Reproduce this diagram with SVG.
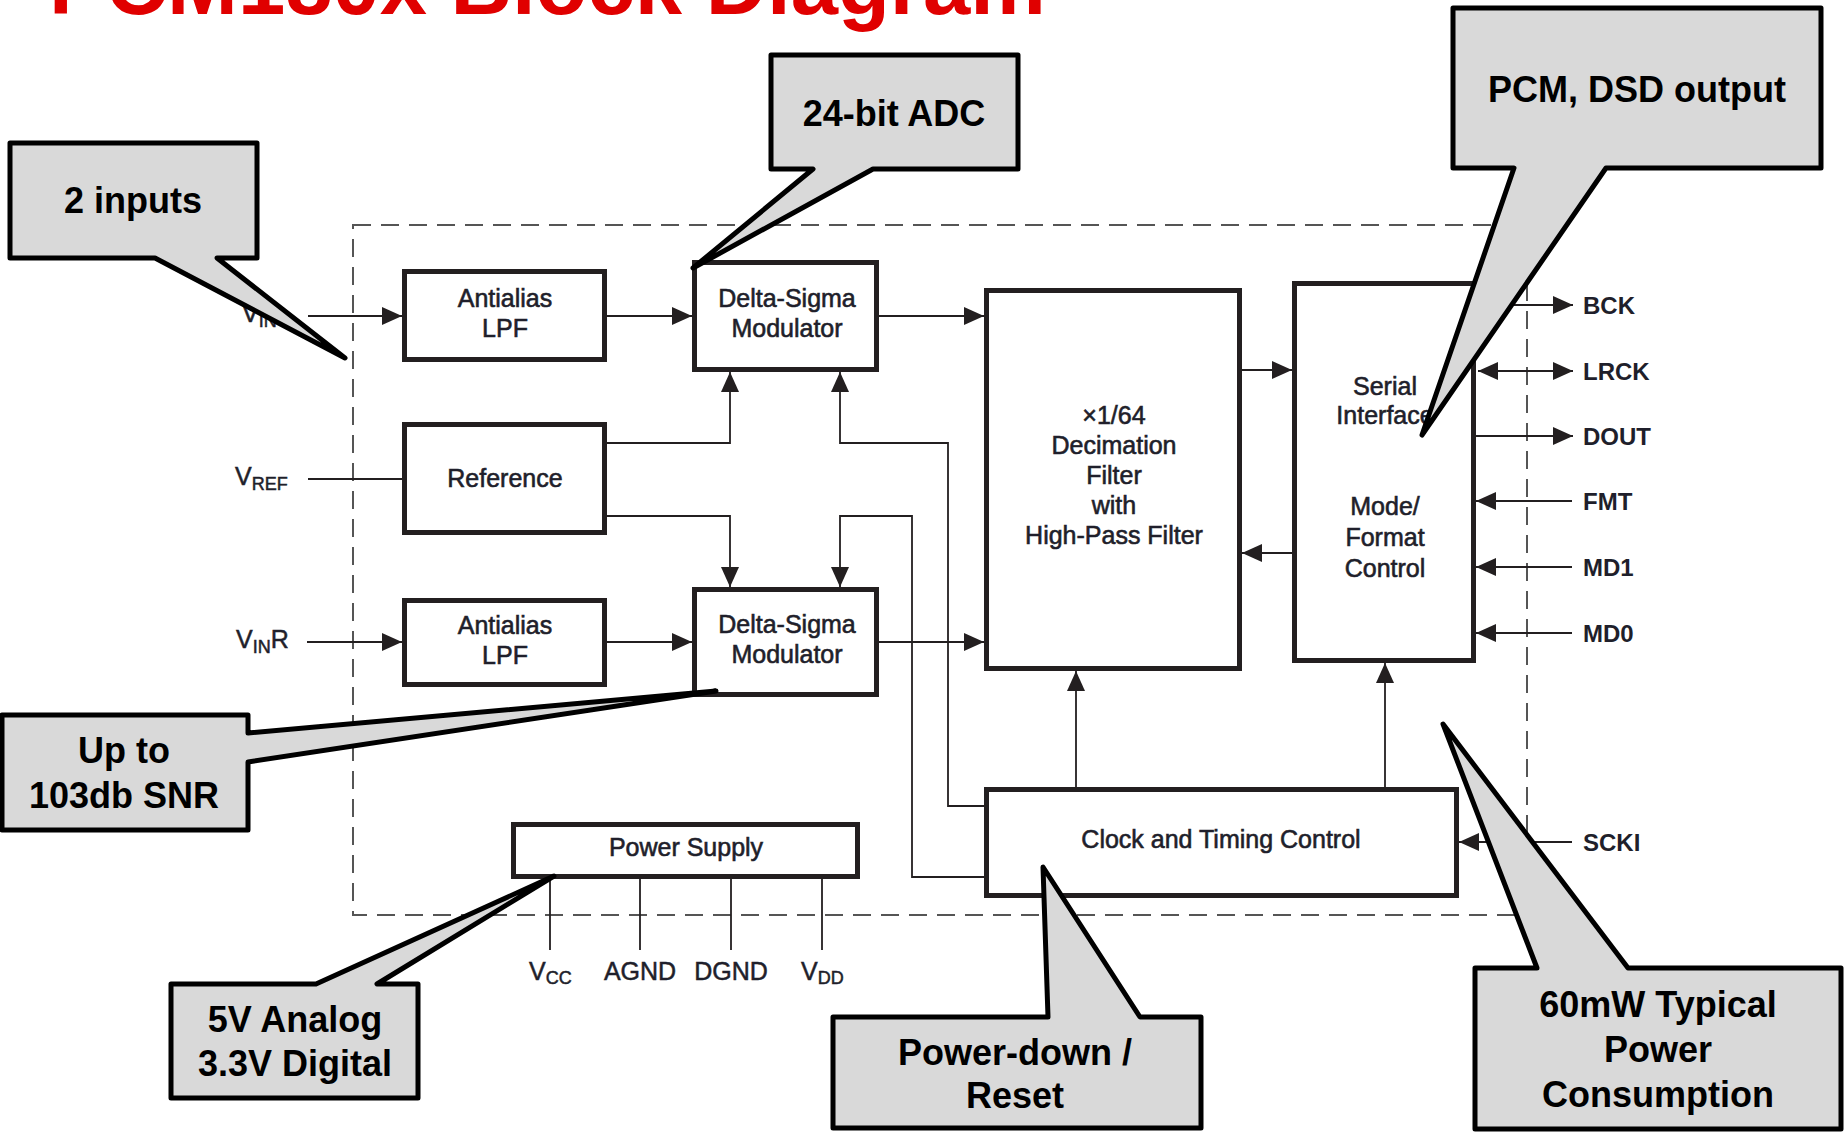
<svg xmlns="http://www.w3.org/2000/svg" width="1845" height="1134" viewBox="0 0 1845 1134">
<defs>
<style>
.blk{fill:#fff;stroke:#231f20;stroke-width:5}
.bt{font-family:"Liberation Sans",Arial,sans-serif;font-size:25px;fill:#1f1f2b;stroke:#1f1f2b;stroke-width:0.6;text-anchor:middle}
.lbl{font-family:"Liberation Sans",Arial,sans-serif;font-size:25px;fill:#1f1f2b;stroke:#1f1f2b;stroke-width:0.5}
.pin{font-family:"Liberation Sans",Arial,sans-serif;font-size:24px;font-weight:bold;fill:#1f1f2b}
.w{fill:none;stroke:#231f20;stroke-width:1.8}
.co{fill:#d9d9d9;stroke:#000;stroke-width:5;stroke-linejoin:round}
.ct{font-family:"Liberation Sans",Arial,sans-serif;font-size:36px;font-weight:bold;fill:#000;text-anchor:middle}
</style>
<marker id="ah" markerWidth="20" markerHeight="18" refX="20" refY="9" orient="auto-start-reverse" markerUnits="userSpaceOnUse">
<path d="M0,0 L20,9 L0,18 Z" fill="#231f20"/>
</marker>
</defs>
<rect width="1845" height="1134" fill="#fff"/>
<text x="49" y="14" font-family="Liberation Sans,Arial,sans-serif" font-size="85" font-weight="bold" fill="#e00000">PCM180x Block Diagram</text>

<rect id="boundary" x="353" y="225" width="1174" height="690" fill="none" stroke="#555" stroke-width="2" stroke-dasharray="18 10"/>

<g id="connectors">
<path class="w" d="M308,316 H402" marker-end="url(#ah)"/>
<path class="w" d="M607,316 H692" marker-end="url(#ah)"/>
<path class="w" d="M879,316 H984" marker-end="url(#ah)"/>
<path class="w" d="M607,443 H730 V372" marker-end="url(#ah)"/>
<path class="w" d="M984,806 H948 V443 H840 V372" marker-end="url(#ah)"/>
<path class="w" d="M607,516 H730 V587" marker-end="url(#ah)"/>
<path class="w" d="M984,877 H912 V516 H840 V587" marker-end="url(#ah)"/>
<path class="w" d="M308,479 H402"/>
<path class="w" d="M307,642 H402" marker-end="url(#ah)"/>
<path class="w" d="M607,642 H692" marker-end="url(#ah)"/>
<path class="w" d="M879,642 H984" marker-end="url(#ah)"/>
<path class="w" d="M1242,370 H1292" marker-end="url(#ah)"/>
<path class="w" d="M1292,553 H1242" marker-end="url(#ah)"/>
<path class="w" d="M1076,787 V671" marker-end="url(#ah)"/>
<path class="w" d="M1385,787 V663" marker-end="url(#ah)"/>
<path class="w" d="M1476,305 H1573" marker-end="url(#ah)"/>
<path class="w" d="M1478,371 H1573" marker-start="url(#ah)" marker-end="url(#ah)"/>
<path class="w" d="M1476,436 H1573" marker-end="url(#ah)"/>
<path class="w" d="M1572,501 H1476" marker-end="url(#ah)"/>
<path class="w" d="M1572,567 H1476" marker-end="url(#ah)"/>
<path class="w" d="M1572,633 H1476" marker-end="url(#ah)"/>
<path class="w" d="M1572,842 H1459" marker-end="url(#ah)"/>
<path class="w" d="M550,879 V950 M640,879 V950 M731,879 V950 M822,879 V950"/>
</g>

<g id="lpf-top"><rect class="blk" x="404.5" y="271.5" width="200" height="88"/>
<text class="bt" x="505" y="307">Antialias</text><text class="bt" x="505" y="337">LPF</text></g>
<g id="dsm-top"><rect class="blk" x="694.5" y="262.5" width="182" height="107"/>
<text class="bt" x="787" y="307">Delta-Sigma</text><text class="bt" x="787" y="337">Modulator</text></g>
<g id="reference"><rect class="blk" x="404.5" y="424.5" width="200" height="108"/>
<text class="bt" x="505" y="487">Reference</text></g>
<g id="lpf-bottom"><rect class="blk" x="404.5" y="600.5" width="200" height="84"/>
<text class="bt" x="505" y="634">Antialias</text><text class="bt" x="505" y="664">LPF</text></g>
<g id="dsm-bottom"><rect class="blk" x="694.5" y="589.5" width="182" height="105"/>
<text class="bt" x="787" y="633">Delta-Sigma</text><text class="bt" x="787" y="663">Modulator</text></g>
<g id="decimation"><rect class="blk" x="986.5" y="290.5" width="253" height="378"/>
<text class="bt" x="1114" y="424">×1/64</text><text class="bt" x="1114" y="454">Decimation</text><text class="bt" x="1114" y="484">Filter</text><text class="bt" x="1114" y="514">with</text><text class="bt" x="1114" y="544">High-Pass Filter</text></g>
<g id="serial"><rect class="blk" x="1294.5" y="283.5" width="179" height="377"/>
<text class="bt" x="1385" y="395">Serial</text><text class="bt" x="1385" y="424">Interface</text><text class="bt" x="1385" y="515">Mode/</text><text class="bt" x="1385" y="546">Format</text><text class="bt" x="1385" y="577">Control</text></g>
<g id="clock"><rect class="blk" x="986.5" y="789.5" width="470" height="106"/>
<text class="bt" x="1221" y="848">Clock and Timing Control</text></g>
<g id="power"><rect class="blk" x="513.5" y="824.5" width="344" height="52"/>
<text class="bt" x="686" y="856">Power Supply</text></g>

<g id="pins">
<text class="lbl" x="242" y="322">V<tspan font-size="18" dy="5">IN</tspan></text>
<text class="lbl" x="235" y="485">V<tspan font-size="18" dy="5">REF</tspan></text>
<text class="lbl" x="236" y="648">V<tspan font-size="18" dy="5">IN</tspan><tspan dy="-5">R</tspan></text>
<text class="lbl" x="529" y="980" font-size="24">V<tspan font-size="18" dy="4">CC</tspan></text>
<text class="lbl" x="640" y="980" font-size="24" text-anchor="middle">AGND</text>
<text class="lbl" x="731" y="980" font-size="24" text-anchor="middle">DGND</text>
<text class="lbl" x="801" y="980" font-size="24">V<tspan font-size="18" dy="4">DD</tspan></text>
<text class="pin" x="1583" y="314">BCK</text>
<text class="pin" x="1583" y="380">LRCK</text>
<text class="pin" x="1583" y="445">DOUT</text>
<text class="pin" x="1583" y="510">FMT</text>
<text class="pin" x="1583" y="576">MD1</text>
<text class="pin" x="1583" y="642">MD0</text>
<text class="pin" x="1583" y="851">SCKI</text>
</g>

<g id="callout-inputs"><path class="co" d="M10,143 H257 V258 H217 L345,358 L155,258 H10 Z"/>
<text class="ct" x="133" y="213">2 inputs</text></g>
<g id="callout-adc"><path class="co" d="M771,55 H1018 V169 H873 L693,268 L813,169 H771 Z"/>
<text class="ct" x="894" y="126">24-bit ADC</text></g>
<g id="callout-output"><path class="co" d="M1453,8 H1821 V168 H1606 L1422,435 L1514,168 H1453 Z"/>
<text class="ct" x="1637" y="102" font-size="34">PCM, DSD output</text></g>
<g id="callout-snr"><path class="co" d="M2,715 H248 V733 L716,691 L248,762 V830 H2 Z"/>
<text class="ct" x="124" y="763">Up to</text><text class="ct" x="124" y="808">103db SNR</text></g>
<g id="callout-supply"><path class="co" d="M171,984 H316 L554,876 L377,984 H418 V1098 H171 Z"/>
<text class="ct" x="295" y="1032">5V Analog</text><text class="ct" x="295" y="1076">3.3V Digital</text></g>
<g id="callout-reset"><path class="co" d="M833,1017 H1048 L1043,867 L1140,1017 H1201 V1128 H833 Z"/>
<text class="ct" x="1015" y="1065">Power-down /</text><text class="ct" x="1015" y="1108">Reset</text></g>
<g id="callout-power"><path class="co" d="M1475,968 H1537 L1443,724 L1628,968 H1841 V1129 H1475 Z"/>
<text class="ct" x="1658" y="1017">60mW Typical</text><text class="ct" x="1658" y="1062">Power</text><text class="ct" x="1658" y="1107">Consumption</text></g>
</svg>
